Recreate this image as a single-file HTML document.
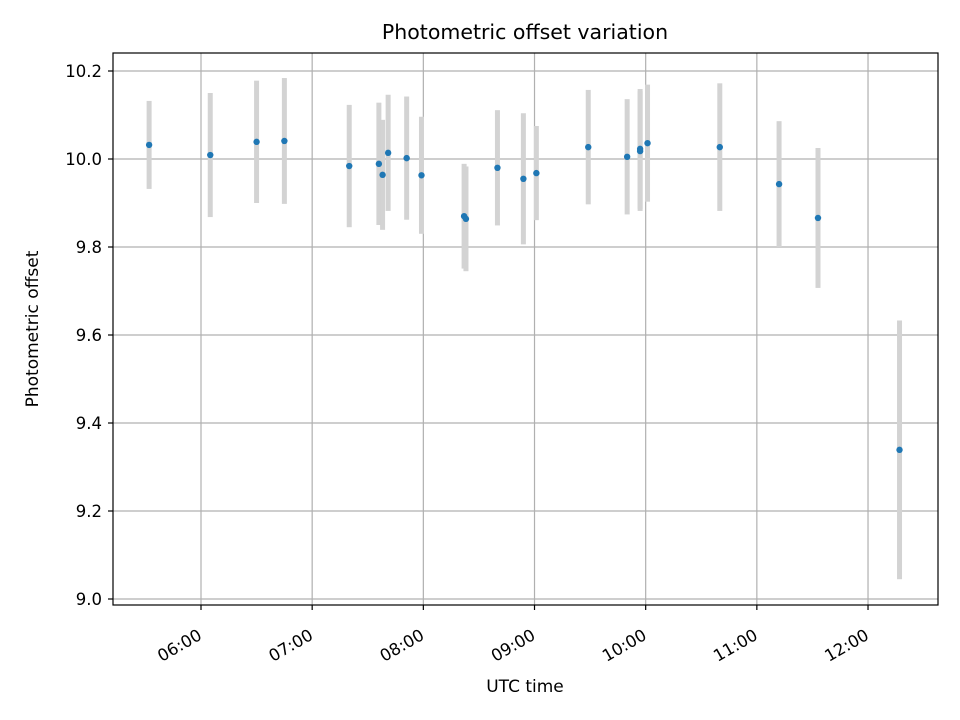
<!DOCTYPE html>
<html><head><meta charset="utf-8">
<style>
html,body{margin:0;padding:0;background:#fff;}
svg{display:block;font-family:"DejaVu Sans","Liberation Sans",sans-serif;}
</style></head>
<body>
<svg id="chart" width="960" height="720" viewBox="0 0 960 720">
  <rect x="0" y="0" width="960" height="720" fill="#fff"/>
  <g id="grid"></g>
  <g id="marks"></g>
  <rect x="113" y="53" width="825" height="552" fill="none" stroke="#000" stroke-width="1.2"/>
  <g id="axes"></g>
  <text x="525" y="39" text-anchor="middle" font-size="20.5">Photometric offset variation</text>
  <text x="525" y="692" text-anchor="middle" font-size="17">UTC time</text>
  <text transform="translate(38,329) rotate(-90)" text-anchor="middle" font-size="17">Photometric offset</text>
</svg>
<script>
const times = ["05:32","06:05","06:30","06:45","07:20","07:36","07:38","07:41","07:51","07:59","08:22","08:23","08:40","08:54","09:01","09:29","09:50","09:57","09:57","10:01","10:40","11:12","11:33","12:17"];
const offsets = [10.032,10.009,10.039,10.041,9.984,9.989,9.964,10.014,10.002,9.963,9.870,9.864,9.980,9.955,9.968,10.027,10.005,10.023,10.018,10.036,10.027,9.943,9.866,9.339];
const errors = [0.100,0.141,0.139,0.143,0.139,0.139,0.125,0.132,0.140,0.133,0.119,0.119,0.131,0.149,0.107,0.130,0.131,0.136,0.136,0.133,0.145,0.143,0.159,0.294];
const xTickLabels = ["06:00","07:00","08:00","09:00","10:00","11:00","12:00"];
const yTickLabels = ["9.0","9.2","9.4","9.6","9.8","10.0","10.2"];

const NS = "http://www.w3.org/2000/svg";
function toHours(s){const p=s.split(":");return +p[0]+ +p[1]/60;}
function xScale(h){return 201 + (h-6)*111.17;}
function yScale(v){return 159 - (v-10)*440;}
function mk(tag, attrs, parent){const e=document.createElementNS(NS,tag);for(const k in attrs)e.setAttribute(k,attrs[k]);parent.appendChild(e);return e;}
const grid=document.getElementById("grid"), axes=document.getElementById("axes"), marks=document.getElementById("marks");

xTickLabels.forEach(lbl=>{
  const x=xScale(toHours(lbl));
  const gl=mk("line",{x1:x,x2:x,y1:53,y2:605,stroke:"#b0b0b0","stroke-width":1.2},grid);
  
  
  const tk=mk("line",{x1:x,x2:x,y1:605,y2:610,stroke:"#000","stroke-width":1.2},axes);
  
  
  const t=mk("text",{transform:`translate(${x-4},${628}) rotate(-30)`,"text-anchor":"end","font-size":16.5,"dominant-baseline":"hanging"},axes);
  t.textContent=lbl;
  
  
});
yTickLabels.forEach(lbl=>{
  const y=yScale(parseFloat(lbl));
  const gl=mk("line",{x1:113,x2:938,y1:y,y2:y,stroke:"#b0b0b0","stroke-width":1.2},grid);
  
  
  const tk=mk("line",{x1:108,x2:113,y1:y,y2:y,stroke:"#000","stroke-width":1.2},axes);
  
  
  const t=mk("text",{x:102,y:y+6,"text-anchor":"end","font-size":16.5},axes);
  t.textContent=lbl;
  
  
});
times.forEach((tm,i)=>{
  const x=xScale(toHours(tm));
  const eb=mk("rect",{x:x-2.5,width:5,y:yScale(offsets[i]+errors[i]),height:yScale(offsets[i]-errors[i])-yScale(offsets[i]+errors[i]),fill:"#d3d3d3"},marks);
  
  
});
times.forEach((tm,i)=>{
  const c=mk("circle",{cx:xScale(toHours(tm)),cy:yScale(offsets[i]),r:3.2,fill:"#1f77b4"},marks);
  
  
});
</script>
</body></html>
